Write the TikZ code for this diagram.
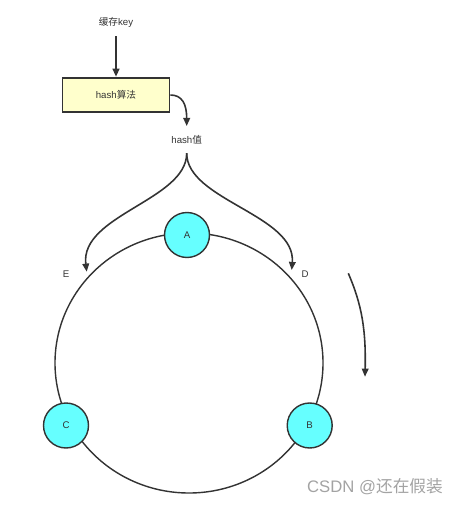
\documentclass[tikz,border=0pt]{standalone}
\usepackage{fontspec}
\setmainfont{Liberation Sans}
\newfontfamily\cjk{Noto Sans CJK SC}
\usetikzlibrary{
  arrows.meta,
  positioning
}
\definecolor{traco}{HTML}{333333}
\definecolor{caixa}{HTML}{FFFFCC}
\definecolor{ciano}{HTML}{66FFFF}
\definecolor{marca}{HTML}{A3A3A3}

\begin{document}
\begin{tikzpicture}[
      x=0.02cm, y=-0.02cm,
      >={Triangle[length=4.6pt,width=3.8pt]},
      rotulo/.style={text=traco, inner sep=1pt, font=\fontsize{5.5}{6.6}\selectfont},
      algoritmo/.style={draw=traco, fill=caixa, line width=1.1pt, minimum width=2.14cm, minimum height=0.69cm, text=traco, font=\fontsize{5.5}{6.6}\selectfont},
      servidor/.style={circle, draw=traco, fill=ciano, line width=0.8pt, minimum size=0.9cm, inner sep=0pt, text=traco, font=\fontsize{5.5}{6.6}\selectfont},
      anel/.style={draw=traco, line width=0.8pt},
      seta/.style={->, line width=0.9pt, traco}
  ]
      \useasboundingbox (0,0) rectangle (459,506);

      % Entrada e hash
      \node[rotulo] (chave) at (116,22.7) {{\cjk 缓存}key};
      \node[algoritmo] (hash) at (116,95) {hash{\cjk 算法}};
      \node[rotulo] (valor) at (186.7,140) {hash{\cjk 值}};

      \draw[seta, line width=1.1pt, shorten <=3.5pt] (chave) -- (hash);
      \draw[seta, shorten >=4.2pt] (hash.east) .. controls (182,95) and (186.7,104) .. (valor.north);

      % Anel
      \draw[anel] (189,363) ellipse [x radius=134, y radius=130];

      % Pontos no anel
      \coordinate (pe) at (86.7,271.7);
      \coordinate (pd) at (291.7,270);
      \node[rotulo] (le) at (66,274) {E};
      \node[rotulo] (ld) at (305,274) {D};

      \draw[seta, shorten <=3.8pt] (valor.south) .. controls (186.7,200) and (80,215) .. (pe);
      \draw[seta, shorten <=3.8pt] (valor.south) .. controls (186.7,200) and (296,215) .. (pd);

      % Servidores
      \node[servidor] (a) at (187,235) {A};
      \node[servidor] (b) at (309.7,425.5) {B};
      \node[servidor] (c) at (66,425.5) {C};

      % Sentido horario
      \coordinate (gi) at (348.3,273.3);
      \coordinate (gf) at (365,376.7);
      \draw[seta] (gi) .. controls (362,305) and (366,330) .. (gf);

      \node[text=marca, inner sep=0pt, font=\fontsize{9.5}{11}\selectfont] (wm) at (375,487) {CSDN @{\cjk 还在假装}};

  \end{tikzpicture}
\end{document}
